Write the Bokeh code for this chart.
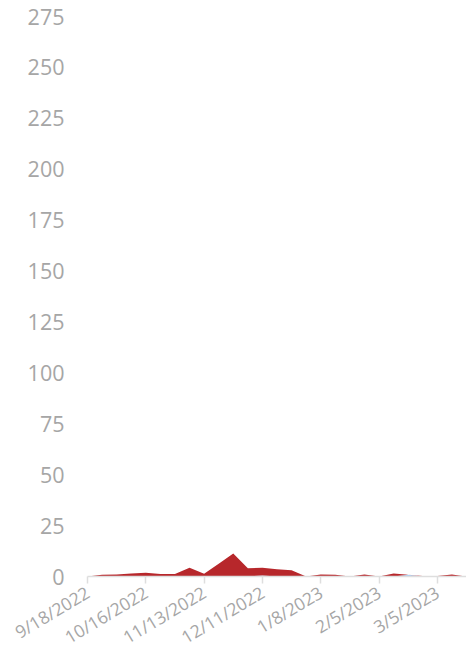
import math
from bokeh.plotting import figure
from bokeh.models import FixedTicker, ColumnDataSource
from bokeh.embed import file_html
from bokeh.resources import INLINE

weeks = ["9/18/2022", "9/25/2022", "10/2/2022", "10/9/2022", "10/16/2022", "10/23/2022",
         "10/30/2022", "11/6/2022", "11/13/2022", "11/20/2022", "11/27/2022", "12/4/2022",
         "12/11/2022", "12/18/2022", "12/25/2022", "1/1/2023", "1/8/2023", "1/15/2023",
         "1/22/2023", "1/29/2023", "2/5/2023", "2/12/2023", "2/19/2023", "2/26/2023",
         "3/5/2023", "3/12/2023", "3/19/2023"]
series_red = [0, 0.8, 1.0, 1.5, 1.8, 1.2, 1.2, 4.0, 1.3, 6.2, 11.3, 4.1, 3.8, 3.6,
              3.1, 0, 1.0, 0.8, 0, 1.0, 0, 1.5, 0, 0.3, 0.2, 1.0, 0]
series_blue = [0, 0, 0, 0, 0, 0, 0, 0.3, 0, 0, 0, 0, 0.5, 0,
               0, 0, 0, 0, 0, 0, 0, 0, 0.8, 0, 0, 0, 0]
y_ticks = [0, 25, 50, 75, 100, 125, 150, 175, 200, 225, 250, 275]
x_tick_every = 4

x = list(range(len(weeks)))
src = ColumnDataSource(dict(x=x, blue=series_blue, red=series_red))

p = figure(width=466, height=661, output_backend="svg", toolbar_location=None,
           x_range=(0, len(weeks) - 1), y_range=(0, 275),
           min_border_left=87, min_border_right=0, min_border_top=16, min_border_bottom=85)
p.outline_line_color = None
p.background_fill_color = "white"
p.border_fill_color = "white"
p.xgrid.grid_line_color = None
p.ygrid.grid_line_color = None

p.varea_stack(["blue", "red"], x="x", color=["#a9cdf2", "#b7272b"], source=src)

ticks = [i for i in x if i % x_tick_every == 0]
p.xaxis.ticker = FixedTicker(ticks=ticks)
p.xaxis.major_label_overrides = {i: weeks[i] for i in ticks}
p.xaxis.major_label_orientation = 0.54
p.xaxis.axis_line_color = "#dedede"
p.xaxis.axis_line_width = 1.5
p.xaxis.major_tick_line_color = "#dedede"
p.xaxis.major_tick_line_width = 1.5
p.xaxis.major_tick_out = 7
p.xaxis.major_tick_in = 0
p.xaxis.minor_tick_line_color = None
p.xaxis.major_label_text_font = "Open Sans"
p.xaxis.major_label_text_font_size = "17.5px"
p.xaxis.major_label_text_color = "#a6a6a6"
p.xaxis.major_label_standoff = 7

p.yaxis.ticker = FixedTicker(ticks=y_ticks)
p.yaxis.axis_line_color = None
p.yaxis.major_tick_line_color = None
p.yaxis.minor_tick_line_color = None
p.yaxis.major_tick_out = 0
p.yaxis.major_tick_in = 0
p.yaxis.major_label_standoff = 23
p.yaxis.major_label_text_font = "Open Sans"
p.yaxis.major_label_text_font_size = "21.5px"
p.yaxis.major_label_text_color = "#a6a6a6"

open("out.html", "w").write(file_html(p, INLINE))
